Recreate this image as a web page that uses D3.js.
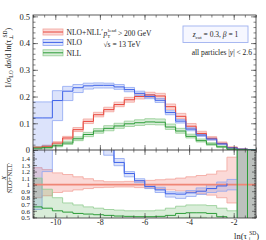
<!DOCTYPE html>
<html>
<head>
<meta charset="utf-8">
<script src="https://cdn.jsdelivr.net/npm/d3@7"></script>
<style>
  body { margin: 0; background: #fff; }
  svg text { font-family: "Liberation Serif", "DejaVu Serif", serif; fill: #222; }
</style>
</head>
<body>
<svg id="chart" width="266" height="240"></svg>
<script>
// bin edges, uniform in log10(tau), plotted in ln(tau)
const edgesLog10 = [-4.8, -4.6, -4.4, -4.2, -4.0, -3.8, -3.6, -3.4, -3.2, -3.0, -2.8, -2.6,
  -2.4, -2.2, -2.0, -1.8, -1.6, -1.4, -1.2, -1.0, -0.8, -0.6, -0.4];

// upper panel: 1/sigma_LO dsigma/dln(tau)
const nloNllC  = [0.010, 0.014, 0.026, 0.045, 0.076, 0.107, 0.132, 0.151, 0.170, 0.188, 0.200, 0.206, 0.202, 0.162, 0.126, 0.089, 0.062, 0.044, 0.025, 0.009, 0.003, 0.001];
const nloNllLo = [0.008, 0.011, 0.022, 0.040, 0.069, 0.099, 0.124, 0.143, 0.162, 0.179, 0.191, 0.197, 0.192, 0.152, 0.117, 0.081, 0.055, 0.038, 0.021, 0.007, 0.002, 0.000];
const nloNllHi = [0.013, 0.018, 0.031, 0.051, 0.084, 0.116, 0.141, 0.160, 0.179, 0.197, 0.210, 0.216, 0.212, 0.172, 0.137, 0.099, 0.070, 0.050, 0.030, 0.012, 0.004, 0.002];

const nloC  = [0.120, 0.120, 0.185, 0.220, 0.233, 0.240, 0.242, 0.242, 0.236, 0.226, 0.212, 0.200, 0.186, 0.140, 0.108, 0.078, 0.056, 0.041, 0.023, 0.008, 0.003, 0.001];
const nloLo = [0.006, 0.017, 0.110, 0.185, 0.215, 0.228, 0.232, 0.232, 0.227, 0.218, 0.204, 0.192, 0.178, 0.132, 0.101, 0.072, 0.051, 0.037, 0.020, 0.007, 0.002, 0.000];
const nloHi = [0.180, 0.180, 0.222, 0.238, 0.245, 0.250, 0.251, 0.250, 0.245, 0.234, 0.220, 0.207, 0.193, 0.147, 0.114, 0.083, 0.060, 0.044, 0.025, 0.009, 0.004, 0.002];

const nllC  = [0.007, 0.009, 0.016, 0.026, 0.042, 0.058, 0.071, 0.081, 0.090, 0.098, 0.102, 0.105, 0.104, 0.086, 0.071, 0.051, 0.035, 0.022, 0.012, 0.003, 0.001, 0.000];
const nllLo = [0.004, 0.006, 0.012, 0.021, 0.035, 0.050, 0.063, 0.072, 0.081, 0.088, 0.092, 0.095, 0.094, 0.077, 0.063, 0.045, 0.030, 0.018, 0.009, 0.002, 0.000, 0.000];
const nllHi = [0.011, 0.014, 0.022, 0.033, 0.049, 0.066, 0.080, 0.091, 0.100, 0.108, 0.113, 0.117, 0.116, 0.097, 0.081, 0.059, 0.041, 0.027, 0.015, 0.005, 0.002, 0.001];

// lower panel: X / NLO+NLL' (last two bins undefined -> bands fill the panel)
const ratioNloNllC  = [1, 1, 1, 1, 1, 1, 1, 1, 1, 1, 1, 1, 1, 1, 1, 1, 1, 1, 1, 1, 1, 1];
const ratioNloNllLo = [0.80, 0.83, 0.88, 0.90, 0.92, 0.94, 0.955, 0.96, 0.965, 0.965, 0.955, 0.945, 0.935, 0.92, 0.905, 0.885, 0.86, 0.84, 0.80, 0.72, 0.3, 0.3];
const ratioNloNllHi = [1.26, 1.23, 1.18, 1.155, 1.12, 1.09, 1.06, 1.045, 1.045, 1.05, 1.06, 1.065, 1.075, 1.085, 1.10, 1.12, 1.14, 1.16, 1.21, 1.42, 2, 2];

const ratioNloC  = [10, 8, 6, 4.5, 3.2, 2.3, 1.85, 1.58, 1.34, 1.17, 1.06, 0.97, 0.92, 0.86, 0.855, 0.875, 0.90, 0.94, 0.98, 1.02, null, null];
const ratioNloLo = [0.62, 1.2, 3, 3, 2.7, 2.1, 1.75, 1.45, 1.29, 1.12, 1.03, 0.94, 0.88, 0.81, 0.79, 0.82, 0.85, 0.88, 0.90, 0.92, 0.3, 0.3];
const ratioNloHi = [15, 12, 8, 5, 3.6, 2.6, 1.95, 1.68, 1.40, 1.20, 1.09, 1.00, 0.96, 0.89, 0.885, 0.91, 0.95, 1.00, 1.04, 1.08, 2, 2];

const ratioNllC  = [0.66, 0.64, 0.60, 0.58, 0.56, 0.55, 0.54, 0.53, 0.52, 0.515, 0.51, 0.51, 0.515, 0.53, 0.56, 0.57, 0.57, 0.56, 0.51, 0.35, 5, 0.3];
const ratioNllLo = [0.45, 0.45, 0.45, 0.45, 0.45, 0.45, 0.45, 0.46, 0.46, 0.46, 0.46, 0.46, 0.46, 0.47, 0.49, 0.50, 0.50, 0.48, 0.42, 0.2, 0.3, 0.3];
const ratioNllHi = [1.10, 0.93, 0.80, 0.72, 0.69, 0.66, 0.64, 0.62, 0.61, 0.60, 0.60, 0.60, 0.61, 0.64, 0.67, 0.69, 0.69, 0.68, 0.64, 0.60, 2, 2];

const xTicks = [-10, -8, -6, -4, -2];
const yMainTicks = [0, 0.1, 0.2, 0.3, 0.4, 0.5];
const yRatioTicks = [0.5, 0.6, 0.7, 0.8, 0.9, 1, 1.1, 1.2, 1.3, 1.4];

const colors = {
  red:   { line: '#e8453a', fill: 'rgba(238,110,100,0.26)', edge: '#f2a39b' },
  blue:  { line: '#3d62e8', fill: 'rgba(110,140,238,0.24)', edge: '#8ea6f2' },
  green: { line: '#2c9c38', fill: 'rgba(95,180,95,0.24)',  edge: '#92cd92' }
};

const L = 33, R = 256, T = 15, MID = 150, B = 218;

const svg = d3.select('#chart');

const x = d3.scaleLinear().domain([-11, -1]).range([L, R]);
const yMain = d3.scaleLinear().domain([0, 0.5051]).range([MID, T]);
const yRatio = d3.scaleLinear().domain([0.49, 1.53]).range([B, MID]);

const edges = edgesLog10.map((e) => e * Math.LN10);

const defs = svg.append('defs');
defs.append('clipPath').attr('id', 'clipMain')
  .append('rect').attr('x', L).attr('y', T).attr('width', R - L).attr('height', MID - T);
defs.append('clipPath').attr('id', 'clipRatio')
  .append('rect').attr('x', L).attr('y', MID).attr('width', R - L).attr('height', B - MID);

// step points: one per bin edge, the last repeats the last bin
function stepData (c, lo, hi) {
  const pts = c.map((v, i) => ({ x: edges[i], c: v, lo: lo[i], hi: hi[i] }));
  const n = c.length;
  pts.push({ x: edges[n], c: c[n - 1], lo: lo[n - 1], hi: hi[n - 1] });
  return pts;
}

function drawPanel (clipId, y, series) {
  const g = svg.append('g').attr('clip-path', `url(#${clipId})`);
  const clampY = (v) => y(Math.max(-5, Math.min(20, v)));

  const area = d3.area()
    .x((d) => x(d.x))
    .y0((d) => clampY(d.lo))
    .y1((d) => clampY(d.hi))
    .curve(d3.curveStepAfter);

  series.forEach((s) => {
    const data = stepData(s.c, s.lo, s.hi);
    g.append('path').attr('d', area(data)).attr('fill', s.col.fill).attr('stroke', 'none');
    ['lo', 'hi'].forEach((k) => {
      const edge = d3.line().x((d) => x(d.x)).y((d) => clampY(d[k])).curve(d3.curveStepAfter);
      g.append('path').attr('d', edge(data)).attr('fill', 'none')
        .attr('stroke', s.col.edge).attr('stroke-width', 0.8);
    });
  });

  series.forEach((s) => {
    const data = stepData(s.c, s.lo, s.hi);
    const line = d3.line()
      .defined((d) => d.c !== null)
      .x((d) => x(d.x)).y((d) => clampY(d.c))
      .curve(d3.curveStepAfter);
    g.append('path').attr('d', line(data)).attr('fill', 'none')
      .attr('stroke', s.ratioLine || s.col.line).attr('stroke-width', s.width || 1);
  });
}

drawPanel('clipMain', yMain, [
  { c: nloNllC, lo: nloNllLo, hi: nloNllHi, col: colors.red },
  { c: nloC, lo: nloLo, hi: nloHi, col: colors.blue },
  { c: nllC, lo: nllLo, hi: nllHi, col: colors.green }
]);

drawPanel('clipRatio', yRatio, [
  { c: ratioNloNllC, lo: ratioNloNllLo, hi: ratioNloNllHi, col: colors.red, ratioLine: '#ef8676', width: 1.8 },
  { c: ratioNloC, lo: ratioNloLo, hi: ratioNloHi, col: colors.blue },
  { c: ratioNllC, lo: ratioNllLo, hi: ratioNllHi, col: colors.green }
]);

// axes: ticks pointing inwards on all sides
function addAxis (axisFn, scale, values, size, transform, fmt, fontSize, pad) {
  const ax = axisFn(scale).tickValues(values).tickSizeInner(size).tickSizeOuter(0)
    .tickPadding(pad === undefined ? 3 : pad).tickFormat(fmt || (() => ''));
  const g = svg.append('g').attr('transform', transform).call(ax);
  g.select('.domain').remove();
  g.selectAll('line').attr('stroke', '#333').attr('stroke-width', 0.6);
  g.selectAll('text').attr('font-size', fontSize || 8).attr('fill', '#222')
    .style('font-family', '"Liberation Serif", serif');
  return g;
}

const xMinor = d3.range(-11, -0.99, 0.5);
const yMainMinor = d3.range(0, 0.501, 0.02);
const yRatioMinor = d3.range(0.5, 1.53, 0.025);

// x axes
addAxis(d3.axisBottom, x, xMinor, -2.5, `translate(0,${B})`);
addAxis(d3.axisBottom, x, xTicks, -5, `translate(0,${B})`, (d) => String(d), 8, 1.5);
addAxis(d3.axisTop, x, xMinor, -2.5, `translate(0,${MID})`);
addAxis(d3.axisTop, x, xTicks, -5, `translate(0,${MID})`);
addAxis(d3.axisBottom, x, xMinor, -2.5, `translate(0,${MID})`);
addAxis(d3.axisBottom, x, xTicks, -5, `translate(0,${MID})`);
addAxis(d3.axisTop, x, xMinor, -2.5, `translate(0,${T})`);
addAxis(d3.axisBottom, x, xTicks, 5, `translate(0,${T})`);

// main y axes
addAxis(d3.axisLeft, yMain, yMainMinor, -2.5, `translate(${L},0)`);
addAxis(d3.axisLeft, yMain, yMainTicks, -5, `translate(${L},0)`,
  (d) => (d === 0 ? '0' : d3.format('.1f')(d)), 8.5);
addAxis(d3.axisRight, yMain, yMainMinor, -2.5, `translate(${R},0)`);
addAxis(d3.axisRight, yMain, yMainTicks, -5, `translate(${R},0)`);

// ratio y axes
addAxis(d3.axisLeft, yRatio, yRatioMinor, -2, `translate(${L},0)`);
addAxis(d3.axisLeft, yRatio, yRatioTicks, -4, `translate(${L},0)`,
  (d) => (d === 1 ? '1' : d3.format('.1f')(d)), 7);
addAxis(d3.axisRight, yRatio, yRatioMinor, -2, `translate(${R},0)`);
addAxis(d3.axisRight, yRatio, yRatioTicks, -4, `translate(${R},0)`);

// frames
svg.append('rect').attr('x', L).attr('y', T).attr('width', R - L).attr('height', B - T)
  .attr('fill', 'none').attr('stroke', '#333').attr('stroke-width', 0.8);
svg.append('line').attr('x1', L).attr('x2', R).attr('y1', MID).attr('y2', MID)
  .attr('stroke', '#333').attr('stroke-width', 0.9);

// axis titles
const yTitle = svg.append('text')
  .attr('transform', 'translate(11,58) rotate(-90)')
  .attr('text-anchor', 'middle').attr('font-size', 8);
yTitle.append('tspan').text('1/σ');
yTitle.append('tspan').attr('font-size', 5.5).attr('dy', 2).text('LO');
yTitle.append('tspan').attr('dy', -2).text(' dσ/d ln(τ');
yTitle.append('tspan').attr('font-size', 5.5).attr('dy', 2).text('⊥');
yTitle.append('tspan').attr('font-size', 5.5).attr('dx', -3).attr('dy', -6).text('SD');
yTitle.append('tspan').attr('dy', 4).text(')');

const rTitle = svg.append('g').attr('transform', 'translate(0,178) rotate(-90)');
rTitle.append('text').attr('x', 0).attr('y', 6.3).attr('text-anchor', 'middle')
  .attr('font-size', 6.5).attr('font-style', 'italic').text('X');
rTitle.append('line').attr('x1', -14).attr('x2', 14).attr('y1', 7.4).attr('y2', 7.4)
  .attr('stroke', '#222').attr('stroke-width', 0.5);
rTitle.append('text').attr('x', 0).attr('y', 12.3).attr('text-anchor', 'middle')
  .attr('font-size', 6.5).text('NLO+NLL\u2032');

const xTitle = svg.append('text').attr('x', 259).attr('y', 238.5)
  .attr('text-anchor', 'end').attr('font-size', 8.5);
xTitle.append('tspan').text('ln(τ');
xTitle.append('tspan').attr('font-size', 5.5).attr('dy', 2).text('⊥');
xTitle.append('tspan').attr('font-size', 5.5).attr('dx', -3).attr('dy', -6).text('SD');
xTitle.append('tspan').attr('dy', 4).text(')');

// legend
const legendNames = ['NLO+NLL\u2032', 'NLO', 'NLL'];
const legendCols = [colors.red, colors.blue, colors.green];
legendNames.forEach((name, i) => {
  const cy = 32 + i * 10.4;
  svg.append('rect').attr('x', 43).attr('y', cy - 3).attr('width', 20).attr('height', 6)
    .attr('fill', legendCols[i].fill).attr('stroke', legendCols[i].edge).attr('stroke-width', 0.8);
  svg.append('line').attr('x1', 43).attr('x2', 63).attr('y1', cy).attr('y2', cy)
    .attr('stroke', legendCols[i].line).attr('stroke-width', 1);
  svg.append('text').attr('x', 66.5).attr('y', cy + 2.8).attr('font-size', 7.6).text(name);
});

// annotations
const pt = svg.append('text').attr('x', 103.5).attr('y', 36).attr('font-size', 7.5);
pt.append('tspan').attr('font-style', 'italic').text('p');
pt.append('tspan').attr('font-size', 5).attr('dy', 2).text('T');
pt.append('tspan').attr('font-size', 5).attr('dx', -2.5).attr('dy', -6).text('lead');
pt.append('tspan').attr('dy', 4).text(' > 200 GeV');

svg.append('text').attr('x', 103.5).attr('y', 47).attr('font-size', 7.5)
  .text('√s = 13 TeV');

svg.append('rect').attr('x', 183).attr('y', 26).attr('width', 65).attr('height', 16.5)
  .attr('fill', '#f6f7ff').attr('stroke', '#9fb1f0').attr('stroke-width', 0.9);
const zc = svg.append('text').attr('x', 215.5).attr('y', 37).attr('text-anchor', 'middle')
  .attr('font-size', 7.5);
zc.append('tspan').attr('font-style', 'italic').text('z');
zc.append('tspan').attr('font-size', 5).attr('dy', 1.5).text('cut');
zc.append('tspan').attr('dy', -1.5).text(' = 0.3, ');
zc.append('tspan').attr('font-style', 'italic').text('β');
zc.append('tspan').text(' = 1');

const ap = svg.append('text').attr('x', 252).attr('y', 55).attr('text-anchor', 'end')
  .attr('font-size', 7.5);
ap.append('tspan').text('all particles |');
ap.append('tspan').attr('font-style', 'italic').text('y');
ap.append('tspan').text('| < 2.6');
</script>
</body>
</html>
